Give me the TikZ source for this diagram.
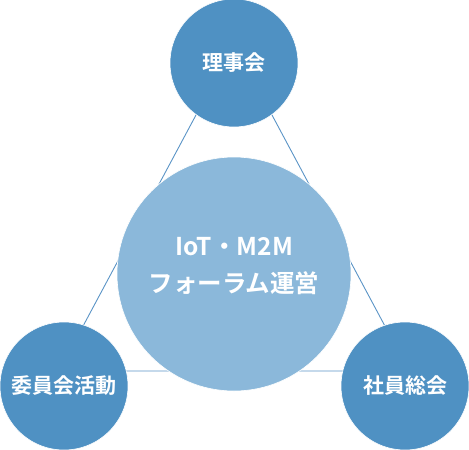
\documentclass[tikz,border=0pt]{standalone}
\usepackage{fontspec}
\newfontfamily\jpfont{Noto Sans CJK JP}[BoldFont={* Bold}]
\definecolor{darkc}{HTML}{4F91C3}
\definecolor{lightc}{HTML}{8BB8DA}
\definecolor{linec}{HTML}{5A94C6}
\begin{document}
\begin{tikzpicture}[x=1pt,y=-1pt,
  smallc/.style={circle,fill=darkc,draw=white,line width=0.6pt,minimum size=128pt,inner sep=0pt,text=white,font=\jpfont\bfseries\fontsize{21}{24}\selectfont},
  bigc/.style={circle,fill=lightc,draw=white,line width=0.6pt,minimum size=234pt,inner sep=0pt},
  bigtext/.style={text=white,font=\jpfont\bfseries\fontsize{24.5}{37}\selectfont,align=center},
  tri/.style={draw=linec,line width=0.9pt}]
\useasboundingbox (0,0) rectangle (469,450);
\coordinate (tA) at (234,44);
\coordinate (tB) at (59,371);
\coordinate (tC) at (409,371);
\draw[tri] (tA) -- (tB) -- (tC) -- cycle;
\node[bigc] (core) at (234,274) {};
\node[bigtext] (coretext) at (234,266) {IoT・M2M\\フォーラム運営};
\node[smallc] (top) at (234,63) {理事会};
\node[smallc] (left) at (64,386) {委員会活動};
\node[smallc] (right) at (405,386) {社員総会};
\end{tikzpicture}
\end{document}
